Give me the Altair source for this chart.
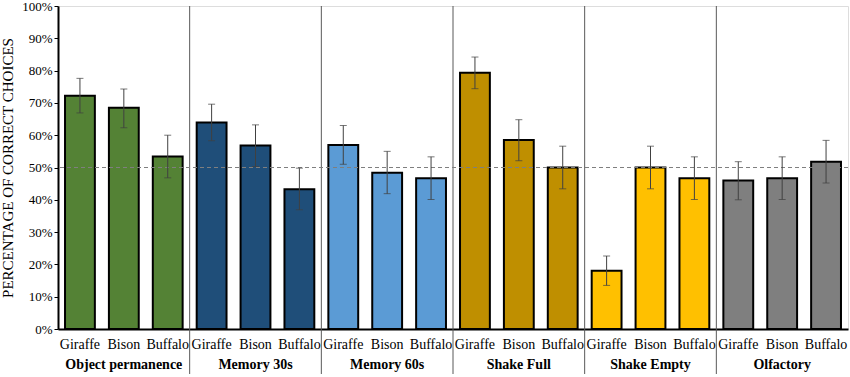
import altair as alt
import pandas as pd

groups = ["Object permanence", "Memory 30s", "Memory 60s", "Shake Full", "Shake Empty", "Olfactory"]
animals = ["Giraffe", "Bison", "Buffalo"]
colors = ["#548235", "#1F4E79", "#5B9BD5", "#BF8F00", "#FFC000", "#7F7F7F"]

means = [72.2, 68.5, 53.4,
         63.9, 56.8, 43.3,
         57.0, 48.4, 46.7,
         79.3, 58.5, 50.0,
         18.0, 50.0, 46.7,
         46.0, 46.7, 51.8]
err_hi = [77.6, 74.3, 60.0,
          69.6, 63.2, 49.8,
          63.0, 55.0, 53.3,
          84.2, 64.8, 56.6,
          22.6, 56.6, 53.3,
          51.8, 53.3, 58.4]
err_lo = [66.9, 62.3, 46.8,
          58.3, 50.3, 36.9,
          51.0, 41.9, 40.1,
          74.4, 52.1, 43.4,
          13.5, 43.4, 40.1,
          40.0, 40.1, 45.2]

rows = []
for gi, g in enumerate(groups):
    for ai, a in enumerate(animals):
        i = gi * 3 + ai
        rows.append({"group": g, "animal": a, "pos": i + 0.5, "x0": i + 0.16, "x1": i + 0.84,
                     "mean": means[i], "hi": err_hi[i], "lo": err_lo[i], "zero": 0})
df = pd.DataFrame(rows)

gdf = pd.DataFrame({"group": groups, "center": [3 * k + 1.5 for k in range(len(groups))]})
sdf = pd.DataFrame({"sep": [3 * k for k in range(1, len(groups))]})
ref = pd.DataFrame({"v": [50]})

W, H = 790, 323
xs = alt.Scale(domain=[0, 18], nice=False, zero=False)
ys = alt.Scale(domain=[0, 100], nice=False)

x_axis = alt.Axis(labels=False, ticks=False, title=None, grid=False,
                  domainColor="black", domainWidth=2)
y_axis = alt.Axis(
    values=list(range(0, 101, 10)), labelExpr="datum.value + '%'", grid=False,
    labelOverlap=False,
    title="PERCENTAGE OF CORRECT CHOICES", titleFont="Liberation Serif", titleFontSize=15,
    titleFontWeight="normal", titleColor="black", titlePadding=6,
    labelFont="Liberation Serif", labelFontSize=13, labelColor="black",
    tickColor="black", tickSize=4, domainColor="black", domainWidth=2)

base = alt.Chart(df)

bars = base.mark_bar(stroke="black", strokeWidth=2).encode(
    x=alt.X("x0:Q", scale=xs, axis=x_axis),
    x2="x1:Q",
    y=alt.Y("mean:Q", scale=ys, axis=y_axis),
    y2="zero:Q",
    color=alt.Color("group:N", scale=alt.Scale(domain=groups, range=colors), legend=None),
)

seps = alt.Chart(sdf).mark_rule(color="#595959", strokeWidth=1).encode(
    x=alt.X("sep:Q", scale=xs, axis=x_axis), y=alt.value(0), y2=alt.value(368))

refline = alt.Chart(ref).mark_rule(color="#7F7F7F", strokeDash=[4, 3], strokeWidth=1.2).encode(
    y=alt.Y("v:Q", scale=ys, axis=y_axis))

evert = base.mark_rule(color="#404040", strokeWidth=1).encode(
    x=alt.X("pos:Q", scale=xs, axis=x_axis), y=alt.Y("lo:Q", scale=ys, axis=y_axis), y2="hi:Q")
ecap_hi = base.mark_tick(color="#404040", thickness=1, size=7, orient="horizontal").encode(
    x=alt.X("pos:Q", scale=xs, axis=x_axis), y=alt.Y("hi:Q", scale=ys, axis=y_axis))
ecap_lo = base.mark_tick(color="#404040", thickness=1, size=7, orient="horizontal").encode(
    x=alt.X("pos:Q", scale=xs, axis=x_axis), y=alt.Y("lo:Q", scale=ys, axis=y_axis))

animal_lbl = base.mark_text(font="Liberation Serif", fontSize=14, color="black", baseline="middle").encode(
    x=alt.X("pos:Q", scale=xs, axis=x_axis), y=alt.value(H + 16), text="animal:N")

group_lbl = alt.Chart(gdf).mark_text(font="Liberation Serif", fontSize=14, fontWeight="bold",
                                      color="black", baseline="middle").encode(
    x=alt.X("center:Q", scale=xs, axis=x_axis), y=alt.value(H + 36), text="group:N")

chart = alt.layer(bars, seps, refline, evert, ecap_hi, ecap_lo, animal_lbl, group_lbl).properties(
    width=W, height=H,
    autosize=alt.AutoSizeParams(type="none"),
    padding={"left": 58, "top": 6, "right": 2, "bottom": 48},
).configure_view(stroke="#595959", strokeWidth=1).configure(background="white")

chart.save("out.html", embed_options={"renderer": "svg", "actions": False})
